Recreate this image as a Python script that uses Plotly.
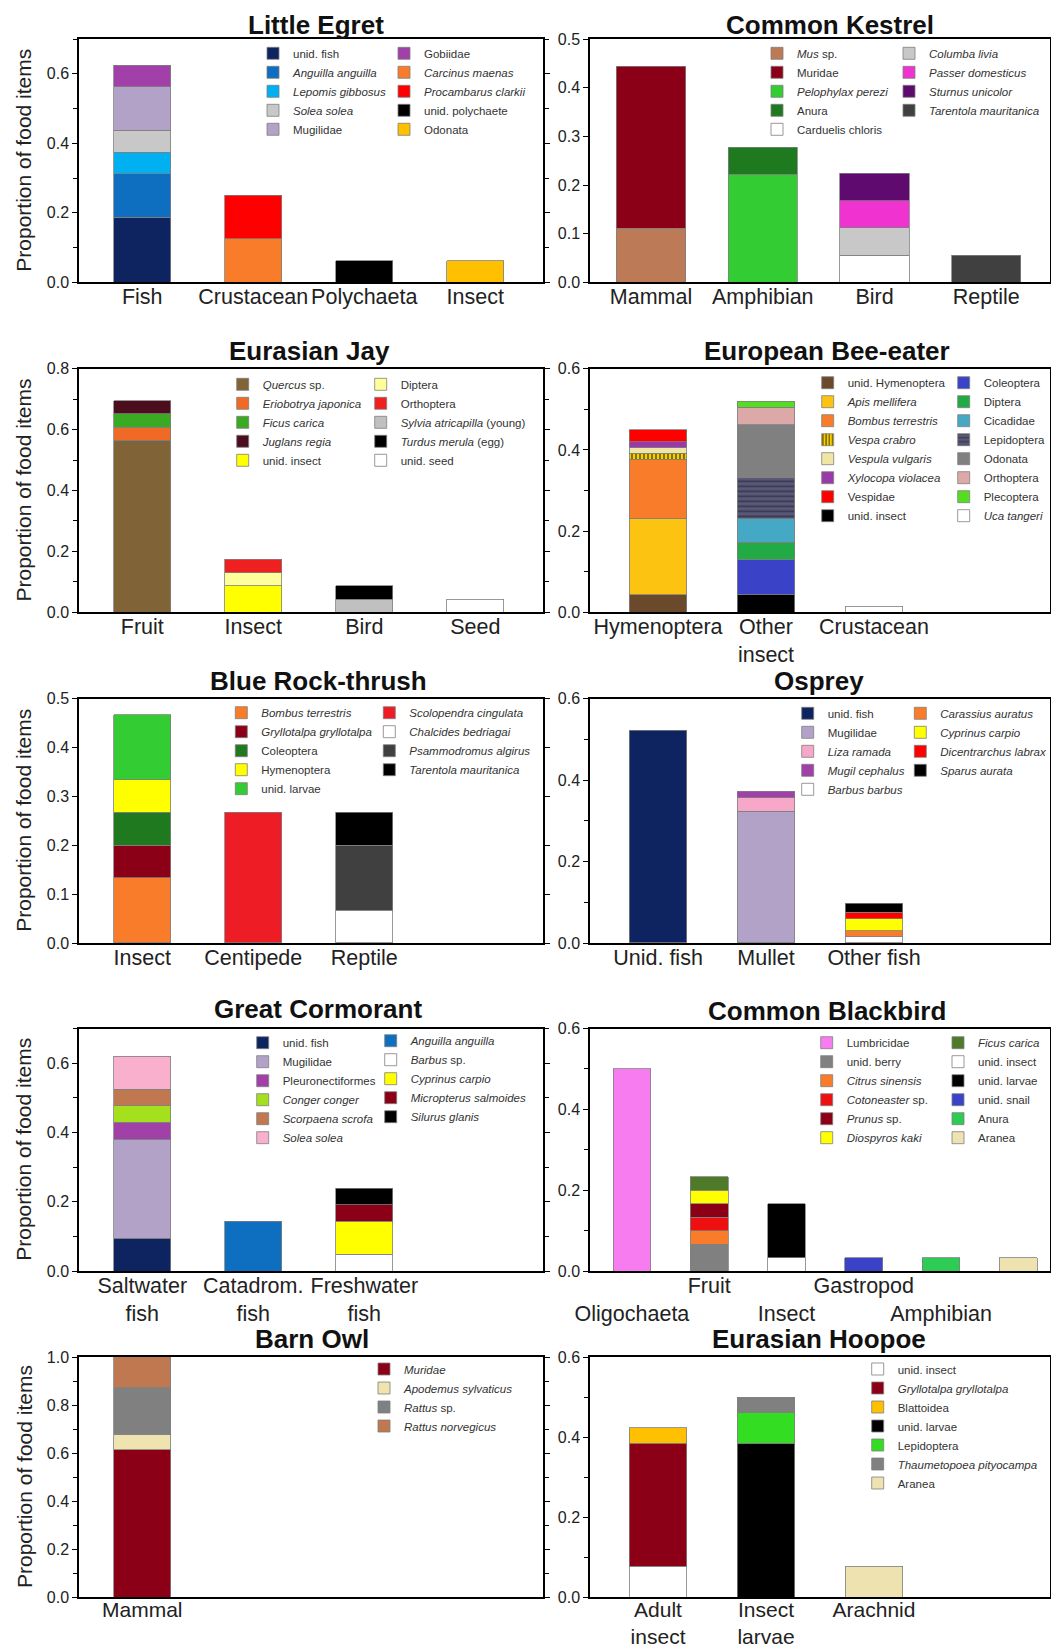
import plotly.graph_objects as go

W, H = 1059, 1652
OFF = 8  # default page body margin
FIG_W, FIG_H = W - OFF, H - OFF

# ------------------------------------------------------------------ data
EGRET_CATS = ["Fish", "Crustacean", "Polychaeta", "Insect"]
EGRET_ITEMS = ["unid. fish", "<i>Anguilla anguilla</i>", "<i>Lepomis gibbosus</i>", "<i>Solea solea</i>", "Mugilidae",
               "Gobiidae", "<i>Carcinus maenas</i>", "<i>Procambarus clarkii</i>", "unid. polychaete", "Odonata"]
EGRET_ITEM_CAT = ["Fish", "Fish", "Fish", "Fish", "Fish", "Fish", "Crustacean", "Crustacean", "Polychaeta", "Insect"]
EGRET_VALUES = [0.1875, 0.125, 0.0625, 0.0625, 0.125, 0.0625, 0.125, 0.125, 0.0625, 0.0625]

KESTREL_CATS = ["Mammal", "Amphibian", "Bird", "Reptile"]
KESTREL_ITEMS = ["<i>Mus</i> sp.", "Muridae", "<i>Pelophylax perezi</i>", "Anura", "Carduelis chloris",
                 "<i>Columba livia</i>", "<i>Passer domesticus</i>", "<i>Sturnus unicolor</i>", "<i>Tarentola mauritanica</i>"]
KESTREL_ITEM_CAT = ["Mammal", "Mammal", "Amphibian", "Amphibian", "Bird", "Bird", "Bird", "Bird", "Reptile"]
KESTREL_VALUES = [0.111, 0.333, 0.222, 0.056, 0.056, 0.056, 0.056, 0.056, 0.056]

JAY_CATS = ["Fruit", "Insect", "Bird", "Seed"]
JAY_ITEMS = ["<i>Quercus</i> sp.", "<i>Eriobotrya japonica</i>", "<i>Ficus carica</i>", "<i>Juglans regia</i>", "unid. insect",
             "Diptera", "Orthoptera", "<i>Sylvia atricapilla</i> (young)", "<i>Turdus merula</i> (egg)", "unid. seed"]
JAY_ITEM_CAT = ["Fruit", "Fruit", "Fruit", "Fruit", "Insect", "Insect", "Insect", "Bird", "Bird", "Seed"]
JAY_VALUES = [0.565, 0.0435, 0.0435, 0.0435, 0.087, 0.0435, 0.0435, 0.0435, 0.0435, 0.0435]

BEE_CATS = ["Hymenoptera", "Other<br>insect", "Crustacean"]
BEE_ITEMS = ["unid. Hymenoptera", "<i>Apis mellifera</i>", "<i>Bombus terrestris</i>", "<i>Vespa crabro</i>",
             "<i>Vespula vulgaris</i>", "<i>Xylocopa violacea</i>", "Vespidae", "unid. insect",
             "Coleoptera", "Diptera", "Cicadidae", "Lepidoptera", "Odonata", "Orthoptera", "Plecoptera", "<i>Uca tangeri</i>"]
BEE_ITEM_CAT = ["Hymenoptera", "Hymenoptera", "Hymenoptera", "Hymenoptera", "Hymenoptera", "Hymenoptera", "Hymenoptera",
                "Other<br>insect", "Other<br>insect", "Other<br>insect", "Other<br>insect", "Other<br>insect",
                "Other<br>insect", "Other<br>insect", "Other<br>insect", "Crustacean"]
BEE_VALUES = [0.043, 0.189, 0.145, 0.0145, 0.0145, 0.0145, 0.029, 0.043,
              0.087, 0.043, 0.058, 0.101, 0.130, 0.043, 0.0145, 0.0145]

THRUSH_CATS = ["Insect", "Centipede", "Reptile"]
THRUSH_ITEMS = ["<i>Bombus terrestris</i>", "<i>Gryllotalpa gryllotalpa</i>", "Coleoptera", "Hymenoptera", "unid. larvae",
                "<i>Scolopendra cingulata</i>", "<i>Chalcides bedriagai</i>", "<i>Psammodromus algirus</i>", "<i>Tarentola mauritanica</i>"]
THRUSH_ITEM_CAT = ["Insect", "Insect", "Insect", "Insect", "Insect", "Centipede", "Reptile", "Reptile", "Reptile"]
THRUSH_VALUES = [0.133, 0.067, 0.067, 0.067, 0.133, 0.267, 0.067, 0.133, 0.067]

OSPREY_CATS = ["Unid. fish", "Mullet", "Other fish"]
OSPREY_ITEMS = ["unid. fish", "Mugilidae", "<i>Liza ramada</i>", "<i>Mugil cephalus</i>", "<i>Barbus barbus</i>",
                "<i>Carassius auratus</i>", "<i>Cyprinus carpio</i>", "<i>Dicentrarchus labrax</i>", "<i>Sparus aurata</i>"]
OSPREY_ITEM_CAT = ["Unid. fish", "Mullet", "Mullet", "Mullet", "Other fish", "Other fish", "Other fish", "Other fish", "Other fish"]
OSPREY_VALUES = [0.522, 0.323, 0.034, 0.015, 0.015, 0.015, 0.030, 0.015, 0.022]

CORMORANT_CATS = ["Saltwater<br>fish", "Catadrom.<br>fish", "Freshwater<br>fish"]
CORMORANT_ITEMS = ["unid. fish", "Mugilidae", "Pleuronectiformes", "<i>Conger conger</i>", "<i>Scorpaena scrofa</i>", "<i>Solea solea</i>",
                   "<i>Anguilla anguilla</i>", "<i>Barbus</i> sp.", "<i>Cyprinus carpio</i>", "<i>Micropterus salmoides</i>", "<i>Silurus glanis</i>"]
CORMORANT_ITEM_CAT = ["Saltwater<br>fish", "Saltwater<br>fish", "Saltwater<br>fish", "Saltwater<br>fish", "Saltwater<br>fish",
                      "Saltwater<br>fish", "Catadrom.<br>fish", "Freshwater<br>fish", "Freshwater<br>fish",
                      "Freshwater<br>fish", "Freshwater<br>fish"]
CORMORANT_VALUES = [0.095, 0.286, 0.048, 0.048, 0.048, 0.095, 0.143, 0.048, 0.095, 0.048, 0.048]

BLACKBIRD_CATS = ["Oligochaeta", "Fruit", "Insect", "Gastropod", "Amphibian", "Arachnid"]
BLACKBIRD_ITEMS = ["Lumbricidae", "unid. berry", "<i>Citrus sinensis</i>", "<i>Cotoneaster</i> sp.", "<i>Prunus</i> sp.", "<i>Diospyros kaki</i>",
                   "<i>Ficus carica</i>", "unid. insect", "unid. larvae", "unid. snail", "Anura", "Aranea"]
BLACKBIRD_ITEM_CAT = ["Oligochaeta", "Fruit", "Fruit", "Fruit", "Fruit", "Fruit", "Fruit",
                      "Insect", "Insect", "Gastropod", "Amphibian", "Arachnid"]
BLACKBIRD_VALUES = [0.5, 0.0667, 0.0333, 0.0333, 0.0333, 0.0333, 0.0333, 0.0333, 0.1333, 0.0333, 0.0333, 0.0333]

OWL_CATS = ["Mammal"]
OWL_ITEMS = ["<i>Muridae</i>", "<i>Apodemus sylvaticus</i>", "<i>Rattus</i> sp.", "<i>Rattus norvegicus</i>"]
OWL_ITEM_CAT = ["Mammal", "Mammal", "Mammal", "Mammal"]
OWL_VALUES = [0.613, 0.065, 0.194, 0.129]

HOOPOE_CATS = ["Adult<br>insect", "Insect<br>larvae", "Arachnid"]
HOOPOE_ITEMS = ["unid. insect", "<i>Gryllotalpa gryllotalpa</i>", "Blattoidea", "unid. larvae", "Lepidoptera",
                "<i>Thaumetopoea pityocampa</i>", "Aranea"]
HOOPOE_ITEM_CAT = ["Adult<br>insect", "Adult<br>insect", "Adult<br>insect", "Insect<br>larvae", "Insect<br>larvae",
                   "Insect<br>larvae", "Arachnid"]
HOOPOE_VALUES = [0.077, 0.308, 0.038, 0.385, 0.077, 0.038, 0.077]

TITLES = ["Little Egret", "Common Kestrel", "Eurasian Jay", "European Bee-eater", "Blue Rock-thrush",
          "Osprey", "Great Cormorant", "Common Blackbird", "Barn Owl", "Eurasian Hoopoe"]
Y_TITLE = "Proportion of food items"

# ------------------------------------------------------------------ styles
NAVY, BLUE, SKY, LGRAY, LAV, PURP = "#0d2461", "#0e6fc0", "#00b0f0", "#c8c8c8", "#b3a2c7", "#a040a8"
ORANGE, RED, BLACK, GOLD, WHITE = "#f97c2a", "#ff0000", "#000000", "#ffc000", "#ffffff"
DRED, BROWN, GREEN, DGREEN, DGRAY, GRAY = "#8b0016", "#bc7a56", "#33cc33", "#1f7a1f", "#404040", "#808080"
YEL, CREAM = "#ffff00", "#eee2b0"

# legend positions: reference text start x, first-row centre y (page px)
STYLES = [
    dict(cats=EGRET_CATS, items=EGRET_ITEMS, icat=EGRET_ITEM_CAT, vals=EGRET_VALUES,
         colors=[NAVY, BLUE, SKY, LGRAY, LAV, PURP, ORANGE, RED, BLACK, GOLD],
         row=0, col=0, yr=[0, 0.7], dt=0.2, nleft=5, leg=[(296, 53.3), (419, 53.3)], tpos=(316, 25)),
    dict(cats=KESTREL_CATS, items=KESTREL_ITEMS, icat=KESTREL_ITEM_CAT, vals=KESTREL_VALUES,
         colors=[BROWN, DRED, GREEN, DGREEN, WHITE, LGRAY, "#f033d0", "#5e0a6e", DGRAY],
         row=0, col=1, yr=[0, 0.5], dt=0.1, nleft=5, leg=[(800, 53.3), (924, 53.3)], tpos=(830, 25),
         xr=[-0.546, 3.57], bw=0.62),
    dict(cats=JAY_CATS, items=JAY_ITEMS, icat=JAY_ITEM_CAT, vals=JAY_VALUES,
         colors=["#806438", "#f06a25", "#3aaa22", "#4c0d1e", YEL, "#ffff99", "#ee2020", "#c0c0c0", BLACK, WHITE],
         row=1, col=0, yr=[0, 0.8], dt=0.2, nleft=5, leg=[(265.7, 384.3), (395.7, 384.3)], tpos=(309, 351)),
    dict(cats=BEE_CATS, items=BEE_ITEMS, icat=BEE_ITEM_CAT, vals=BEE_VALUES,
         colors=["#6b4a2b", "#fdc311", ORANGE, "#f5d000", "#efe5a5", "#9a3aa8", RED, BLACK,
                 "#3a43c8", "#22aa44", "#45a8c4", "#5a5a78", GRAY, "#dda8a8", "#55dd22", WHITE],
         patterns={3: dict(shape="|", fgcolor="#000000", size=4, solidity=0.45),
                   11: dict(shape="-", fgcolor="#15152a", size=5, solidity=0.35)},
         row=1, col=1, yr=[0, 0.6], dt=0.2, nleft=8, leg=[(850.7, 382.7), (978.7, 382.7)], tpos=(827, 351)),
    dict(cats=THRUSH_CATS, items=THRUSH_ITEMS, icat=THRUSH_ITEM_CAT, vals=THRUSH_VALUES,
         colors=[ORANGE, DRED, DGREEN, YEL, GREEN, "#ee1c24", WHITE, DGRAY, BLACK],
         row=2, col=0, yr=[0, 0.5], dt=0.1, nleft=5, leg=[(264.3, 712.7), (404.3, 712.7)], tpos=(318, 681)),
    dict(cats=OSPREY_CATS, items=OSPREY_ITEMS, icat=OSPREY_ITEM_CAT, vals=OSPREY_VALUES,
         colors=[NAVY, LAV, "#f7a8c8", PURP, WHITE, ORANGE, YEL, RED, BLACK],
         row=2, col=1, yr=[0, 0.6], dt=0.2, nleft=5, leg=[(830.7, 713.3), (935.3, 713.3)], tpos=(819, 681)),
    dict(cats=CORMORANT_CATS, items=CORMORANT_ITEMS, icat=CORMORANT_ITEM_CAT, vals=CORMORANT_VALUES,
         colors=[NAVY, LAV, PURP, "#a5e01e", "#c07850", "#f8b0cc", BLUE, WHITE, YEL, DRED, BLACK],
         row=3, col=0, yr=[0, 0.7], dt=0.2, nleft=6, leg=[(285.7, 1042.7), (405.7, 1040.7)], tpos=(318, 1009)),
    dict(cats=BLACKBIRD_CATS, items=BLACKBIRD_ITEMS, icat=BLACKBIRD_ITEM_CAT, vals=BLACKBIRD_VALUES,
         colors=["#f77cf0", GRAY, ORANGE, "#ee1010", DRED, YEL, "#4e7a2a", WHITE, BLACK, "#3a43c8", "#2ecc55", CREAM],
         row=3, col=1, yr=[0, 0.6], dt=0.2, nleft=6, leg=[(849.7, 1042.7), (973, 1042.7)], tpos=(827, 1011),
         xr=[-0.543, 5.41], bw=0.49, stagger=True),
    dict(cats=OWL_CATS, items=OWL_ITEMS, icat=OWL_ITEM_CAT, vals=OWL_VALUES,
         colors=[DRED, "#efe4b0", GRAY, "#c07850"],
         row=4, col=0, yr=[0, 1.0], dt=0.2, nleft=99, leg=[(404, 1369)], tpos=(312, 1339)),
    dict(cats=HOOPOE_CATS, items=HOOPOE_ITEMS, icat=HOOPOE_ITEM_CAT, vals=HOOPOE_VALUES,
         colors=[WHITE, DRED, GOLD, BLACK, "#33dd22", GRAY, CREAM],
         row=4, col=1, yr=[0, 0.6], dt=0.2, nleft=99, leg=[(897.7, 1369)], tpos=(819, 1339)),
]

COL_X = {0: (79, 543), 1: (590, 1050)}
ROW_Y = {0: (39, 282.4), 1: (368.8, 612.3), 2: (698.6, 943), 3: (1028.5, 1271), 4: (1357, 1597)}
XR_DEFAULT = {0: [-0.57, 3.61], 1: [-0.63, 3.63]}
BW_DEFAULT = {0: 0.51, 1: 0.53}
STANDOFF = {0: -6, 1: -6, 2: -6, 3: -6, 4: -7}
TICK_SIZE = {0: 21.5, 1: 21.5, 2: 21.5, 3: 21.5, 4: 21}
LEG_TEXT_OFFSET = 40        # plotly legend: text starts 40 px right of legend x
LEG_ROW_OFFSET = 14.5       # first item centre below legend top
LEG_SHIFT = {0: -3, 1: 5}   # nudge left / right legend columns apart
YTITLE_X = 24

FONT = "Arial, 'Liberation Sans', sans-serif"


def fx(x):
    return (x - OFF) / FIG_W


def fy(y):
    return 1 - (y - OFF) / FIG_H


fig = go.Figure()
layout = dict(width=FIG_W, height=FIG_H, margin=dict(l=0, r=0, t=0, b=0, autoexpand=False),
              paper_bgcolor="white", plot_bgcolor="white", barmode="stack",
              font=dict(family=FONT, color="#222"), annotations=[])

legend_idx = 0
for p_i, s in enumerate(STYLES):
    k = p_i + 1
    xa = "x" if k == 1 else f"x{k}"
    ya = "y" if k == 1 else f"y{k}"
    leg_names = []
    for c_i, (tx_, ty_) in enumerate(s["leg"]):
        legend_idx += 1
        lname = "legend" if legend_idx == 1 else f"legend{legend_idx}"
        leg_names.append(lname)
        shift = LEG_SHIFT[c_i] if len(s["leg"]) > 1 else 0
        layout[lname] = dict(x=fx(tx_ - LEG_TEXT_OFFSET + shift), y=fy(ty_ - LEG_ROW_OFFSET),
                             xanchor="left", yanchor="top", xref="paper", yref="paper",
                             bgcolor="rgba(0,0,0,0)", borderwidth=0, traceorder="normal", itemwidth=30,
                             tracegroupgap=0, font=dict(family=FONT, size=11.5, color="#333"))
    bw = s.get("bw", BW_DEFAULT[s["col"]])
    pats = s.get("patterns", {})
    for j, (name, cat, v) in enumerate(zip(s["items"], s["icat"], s["vals"])):
        marker = dict(color=s["colors"][j], line=dict(color="#7f7f7f", width=0.8))
        if j in pats:
            marker["pattern"] = pats[j]
        fig.add_trace(go.Bar(x=[s["cats"].index(cat)], y=[v], name=name, width=bw, marker=marker,
                             xaxis=xa, yaxis=ya, legend=leg_names[0] if j < s["nleft"] else leg_names[-1],
                             showlegend=True))
    x0, x1 = COL_X[s["col"]]
    y0, y1 = ROW_Y[s["row"]]
    ticktext = list(s["cats"])
    if s.get("stagger"):
        ticktext = [("<br>" + t) if i % 2 == 0 else t for i, t in enumerate(ticktext)]
    axname_x = "xaxis" if k == 1 else f"xaxis{k}"
    axname_y = "yaxis" if k == 1 else f"yaxis{k}"
    layout[axname_x] = dict(domain=[fx(x0), fx(x1)], anchor=ya, range=s.get("xr", XR_DEFAULT[s["col"]]),
                            tickmode="array", tickvals=list(range(len(s["cats"]))), ticktext=ticktext,
                            tickangle=0, ticklabelstandoff=STANDOFF[s["row"]],
                            ticks="", showline=True, linecolor="black", linewidth=1.5, mirror=True,
                            showgrid=False, zeroline=False, fixedrange=True,
                            tickfont=dict(family=FONT, size=TICK_SIZE[s["row"]], color="#222"))
    ycfg = dict(domain=[fy(y1), fy(y0)], anchor=xa, range=s["yr"], dtick=s["dt"], tick0=0,
                tickformat=".1f", ticks="outside", ticklen=5, tickwidth=1, tickcolor="black",
                showline=True, linecolor="black", linewidth=1.5, mirror="ticks",
                showgrid=False, zeroline=False, fixedrange=True,
                tickfont=dict(family=FONT, size=16, color="#222"))
    if s["dt"] > 0.15:
        ycfg["minor"] = dict(dtick=0.1, tick0=0, ticks="outside", ticklen=4, tickcolor="black", showgrid=False)
    layout[axname_y] = ycfg
    tx, ty = s["tpos"]
    layout["annotations"].append(dict(text="<b>" + TITLES[p_i] + "</b>", x=fx(tx), y=fy(ty), xref="paper",
                                      yref="paper", showarrow=False, xanchor="center", yanchor="middle",
                                      font=dict(family=FONT, size=26, color="#111")))
    if s["col"] == 0:
        layout["annotations"].append(dict(text=Y_TITLE, x=fx(YTITLE_X), y=fy((y0 + y1) / 2), xref="paper",
                                          yref="paper", showarrow=False, textangle=-90,
                                          xanchor="center", yanchor="middle",
                                          font=dict(family=FONT, size=21, color="#222")))

fig.update_layout(**layout)
fig.write_html("out.html")
